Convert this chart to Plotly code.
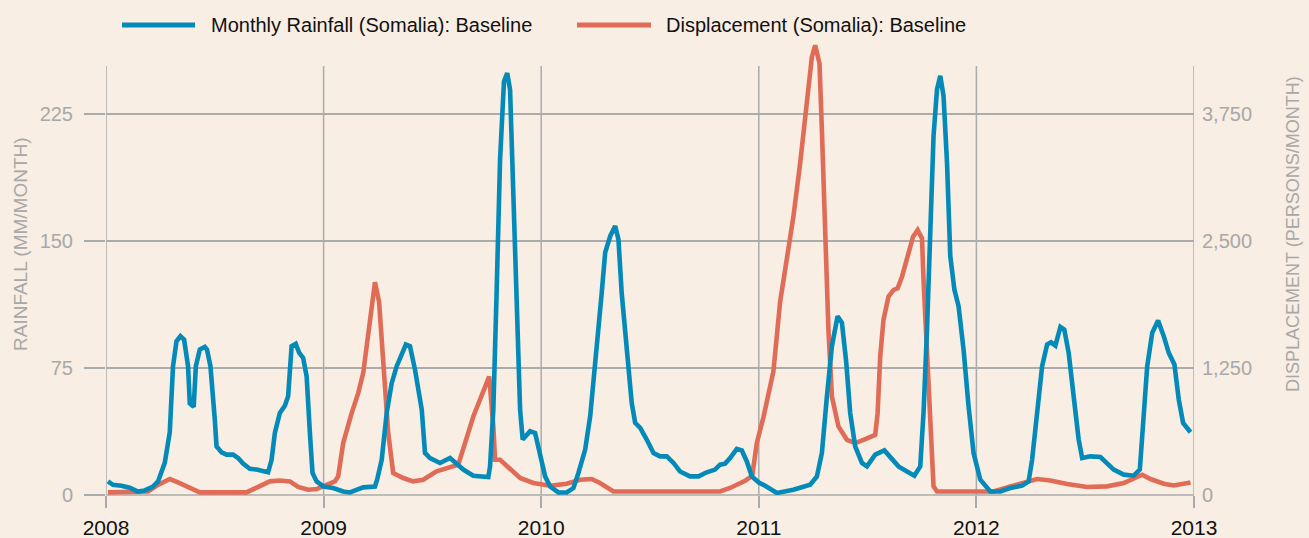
import plotly.graph_objects as go

# ---------------- data ----------------
rain_t = [2008.009, 2008.032, 2008.071, 2008.109, 2008.147, 2008.178, 2008.216, 2008.239, 2008.270, 2008.293,
          2008.308, 2008.324, 2008.342, 2008.359, 2008.377, 2008.385, 2008.403, 2008.413, 2008.431, 2008.454,
          2008.464, 2008.480, 2008.500, 2008.508, 2008.531, 2008.554, 2008.584, 2008.607, 2008.630, 2008.661,
          2008.692, 2008.722, 2008.745, 2008.761, 2008.776, 2008.799, 2008.822, 2008.837, 2008.853, 2008.872,
          2008.888, 2008.906, 2008.922, 2008.937, 2008.949, 2008.968, 2009.000, 2009.044, 2009.090, 2009.121,
          2009.152, 2009.182, 2009.236, 2009.246, 2009.267, 2009.290, 2009.313, 2009.336, 2009.359, 2009.378,
          2009.397, 2009.420, 2009.451, 2009.466, 2009.489, 2009.535, 2009.581, 2009.642, 2009.688, 2009.719,
          2009.757, 2009.765, 2009.780, 2009.795, 2009.811, 2009.829, 2009.844, 2009.857, 2009.872, 2009.890,
          2009.903, 2009.915, 2009.949, 2009.972, 2009.995, 2010.018, 2010.041, 2010.079, 2010.117, 2010.148,
          2010.171, 2010.202, 2010.225, 2010.255, 2010.278, 2010.294, 2010.317, 2010.340, 2010.355, 2010.370,
          2010.393, 2010.416, 2010.432, 2010.455, 2010.485, 2010.516, 2010.546, 2010.577, 2010.608, 2010.638,
          2010.684, 2010.723, 2010.761, 2010.799, 2010.822, 2010.845, 2010.868, 2010.899, 2010.922, 2010.945,
          2010.968, 2011.000, 2011.029, 2011.067, 2011.083, 2011.159, 2011.236, 2011.267, 2011.290, 2011.313,
          2011.336, 2011.362, 2011.382, 2011.402, 2011.420, 2011.443, 2011.474, 2011.497, 2011.535, 2011.577,
          2011.612, 2011.642, 2011.681, 2011.715, 2011.742, 2011.757, 2011.773, 2011.788, 2011.803, 2011.819,
          2011.834, 2011.849, 2011.865, 2011.880, 2011.899, 2011.918, 2011.941, 2011.964, 2011.987, 2012.018,
          2012.064, 2012.110, 2012.156, 2012.210, 2012.240, 2012.256, 2012.279, 2012.302, 2012.325, 2012.343,
          2012.363, 2012.386, 2012.404, 2012.424, 2012.447, 2012.470, 2012.486, 2012.524, 2012.570, 2012.593,
          2012.631, 2012.677, 2012.723, 2012.751, 2012.766, 2012.785, 2012.808, 2012.835, 2012.861, 2012.884,
          2012.910, 2012.930, 2012.950, 2012.984]
rain_mm = [8.0, 6.0, 5.5, 4.3, 2.0, 2.7, 5.0, 8.0, 19.0, 37.0,
           76.0, 90.7, 93.7, 91.7, 76.0, 54.0, 52.0, 76.0, 85.8, 87.4,
           85.8, 76.0, 44.5, 28.7, 25.2, 23.8, 23.8, 21.8, 18.5, 15.4,
           15.0, 13.9, 13.4, 20.8, 36.6, 48.4, 52.7, 58.2, 87.8, 89.2,
           83.9, 80.9, 70.0, 36.6, 13.0, 8.0, 5.0, 4.1, 2.1, 1.5,
           2.7, 4.5, 5.0, 9.0, 20.8, 48.4, 66.0, 76.0, 83.0, 88.8,
           87.8, 74.0, 50.4, 24.8, 21.8, 18.9, 21.8, 15.0, 11.4, 11.0,
           10.6, 16.9, 50.4, 119.0, 198.0, 244.0, 249.0, 239.0, 178.0, 99.6,
           50.4, 32.7, 37.6, 36.6, 24.8, 11.0, 5.0, 1.5, 1.5, 4.1,
           13.0, 26.8, 46.4, 83.9, 119.0, 143.0, 152.7, 158.7, 150.8, 119.0,
           87.8, 54.3, 42.5, 39.6, 32.7, 24.8, 22.8, 22.8, 18.9, 13.9,
           11.0, 11.0, 13.4, 15.0, 17.9, 18.5, 21.8, 27.2, 26.3, 19.8,
           11.0, 7.4, 5.5, 2.1, 1.2, 3.1, 6.1, 11.0, 24.8, 58.2,
           87.8, 105.5, 101.6, 78.0, 48.4, 28.7, 18.9, 16.9, 23.8, 26.3,
           20.8, 16.9, 13.9, 11.4, 16.9, 48.4, 97.6, 156.7, 211.8, 239.4,
           247.3, 235.4, 196.0, 141.0, 121.0, 111.4, 85.8, 52.3, 24.8, 9.0,
           2.1, 2.1, 4.1, 5.5, 8.0, 20.8, 50.4, 76.0, 88.8, 90.1,
           88.2, 99.2, 97.6, 83.9, 58.2, 32.7, 21.8, 22.8, 22.4, 19.8,
           15.0, 12.0, 11.4, 15.0, 40.5, 76.0, 95.7, 103.0, 93.7, 83.9,
           77.0, 56.3, 42.5, 37.0]

disp_t = [2008.009, 2008.078, 2008.155, 2008.193, 2008.232, 2008.293, 2008.331, 2008.370, 2008.400, 2008.431,
          2008.646, 2008.692, 2008.753, 2008.799, 2008.845, 2008.883, 2008.929, 2008.968, 2009.014, 2009.052,
          2009.067, 2009.090, 2009.129, 2009.159, 2009.182, 2009.205, 2009.228, 2009.236, 2009.255, 2009.274,
          2009.297, 2009.320, 2009.366, 2009.412, 2009.458, 2009.519, 2009.550, 2009.619, 2009.688, 2009.761,
          2009.780, 2009.788, 2009.811, 2009.857, 2009.903, 2009.964, 2010.041, 2010.117, 2010.178, 2010.232,
          2010.270, 2010.332, 2010.562, 2010.822, 2010.868, 2010.937, 2010.970, 2010.991, 2011.022, 2011.067,
          2011.098, 2011.129, 2011.159, 2011.190, 2011.221, 2011.244, 2011.259, 2011.279, 2011.290, 2011.305,
          2011.320, 2011.336, 2011.366, 2011.405, 2011.443, 2011.481, 2011.535, 2011.546, 2011.558, 2011.573,
          2011.596, 2011.620, 2011.638, 2011.658, 2011.681, 2011.709, 2011.730, 2011.750, 2011.757, 2011.773,
          2011.788, 2011.796, 2011.803, 2011.819, 2012.079, 2012.156, 2012.233, 2012.279, 2012.340, 2012.417,
          2012.509, 2012.601, 2012.677, 2012.723, 2012.762, 2012.800, 2012.861, 2012.907, 2012.953, 2012.984]
disp_persons = [26, 26, 26, 35, 91, 157, 124, 85, 65, 26,
                26, 69, 134, 143, 134, 79, 52, 59, 101, 134,
                183, 511, 805, 1002, 1198, 1591, 1918, 2093, 1900, 1263,
                609, 216, 167, 134, 150, 232, 249, 298, 772, 1165,
                674, 347, 347, 249, 167, 118, 91, 111, 150, 157,
                118, 35, 35, 35, 69, 140, 190, 511, 772, 1215,
                1900, 2344, 2737, 3261, 3817, 4309, 4423, 4243, 3588, 2606,
                1624, 968, 674, 543, 511, 543, 592, 805, 1362, 1722,
                1951, 2017, 2033, 2147, 2344, 2540, 2606, 2524, 2115, 1460,
                805, 314, 85, 35, 35, 85, 124, 157, 143, 108,
                79, 85, 118, 157, 199, 157, 111, 94, 108, 124]

year_ticks = [2008, 2009, 2010, 2011, 2012, 2013]
year_labels = ["2008", "2009", "2010", "2011", "2012", "2013"]
rain_ticks = [0, 75, 150, 225]
rain_labels = ["0", "75", "150", "225"]
disp_ticks = [0, 1250, 2500, 3750]
disp_labels = ["0", "1,250", "2,500", "3,750"]

series_names = ["Monthly Rainfall (Somalia): Baseline", "Displacement (Somalia): Baseline"]

# ---------------- style ----------------
W, H = 1309, 538
ML, MR, MT, MB = 106, 115, 42, 43
BG = "#F8EEE3"
BLUE = "#048AB8"
RED = "#E06C57"
GRID = "#ABABAB"
TICKGRAY = "#A8A8A8"
FONT = "Liberation Sans, Arial, sans-serif"
RAIN_MAX = 267.3
DISP_MAX = RAIN_MAX * 50 / 3
LEG_Y = 25

def px(x):
    return (x - ML) / (W - ML - MR)

def py(y):
    return (H - MB - y) / (H - MT - MB)

fig = go.Figure()
fig.add_trace(go.Scatter(x=disp_t, y=disp_persons, mode="lines", yaxis="y",
                         line=dict(color=RED, width=4.6), name=series_names[1], showlegend=False))
fig.add_trace(go.Scatter(x=rain_t, y=rain_mm, mode="lines", yaxis="y2",
                         line=dict(color=BLUE, width=4.6), name=series_names[0], showlegend=False))

shapes = []
grid_top = py(66)
for yr in year_ticks:
    shapes.append(dict(type="line", xref="x", yref="paper", x0=yr, x1=yr, y0=0, y1=grid_top,
                       line=dict(color=GRID, width=1.5), layer="below"))
shapes.append(dict(type="line", xref="paper", yref="paper", x0=0, x1=1, y0=0, y1=0,
                   line=dict(color=GRID, width=1.5), layer="below"))
# legend
shapes.append(dict(type="line", xref="paper", yref="paper", x0=px(122), x1=px(195), y0=py(LEG_Y), y1=py(LEG_Y),
                   line=dict(color=BLUE, width=5)))
shapes.append(dict(type="line", xref="paper", yref="paper", x0=px(577), x1=px(651), y0=py(LEG_Y), y1=py(LEG_Y),
                   line=dict(color=RED, width=5)))

annotations = [
    dict(text=series_names[0], xref="paper", yref="paper", x=px(209), y=py(LEG_Y), xanchor="left",
         yanchor="middle", showarrow=False, font=dict(family=FONT, size=20, color="#111111")),
    dict(text=series_names[1], xref="paper", yref="paper", x=px(664), y=py(LEG_Y), xanchor="left",
         yanchor="middle", showarrow=False, font=dict(family=FONT, size=20, color="#111111")),
    dict(text="RAINFALL (MM/MONTH)", xref="paper", yref="paper", x=px(21), y=py(244), textangle=-90,
         xanchor="center", yanchor="middle", showarrow=False, font=dict(family=FONT, size=19, color=TICKGRAY)),
    dict(text="DISPLACEMENT (PERSONS/MONTH)", xref="paper", yref="paper", x=px(1293), y=py(234), textangle=-90,
         xanchor="center", yanchor="middle", showarrow=False, font=dict(family=FONT, size=18, color=TICKGRAY)),
]

fig.update_layout(
    width=W, height=H,
    margin=dict(l=ML, r=MR, t=MT, b=MB, pad=0, autoexpand=False),
    paper_bgcolor=BG, plot_bgcolor=BG,
    font=dict(family=FONT),
    showlegend=False,
    shapes=shapes,
    annotations=annotations,
    xaxis=dict(range=[2008, 2013], tickvals=year_ticks, ticktext=year_labels, automargin=False,
               showgrid=False, zeroline=False, showline=False,
               ticks="outside", ticklen=12, tickwidth=1.5, tickcolor=GRID, ticklabelstandoff=2,
               tickfont=dict(family=FONT, size=21, color="#111111")),
    yaxis=dict(range=[0, DISP_MAX], side="right", tickvals=disp_ticks, ticktext=disp_labels, automargin=False,
               showgrid=True, gridcolor=GRID, gridwidth=1.5, zeroline=False, showline=False,
               ticks="", ticklabelstandoff=7,
               tickfont=dict(family=FONT, size=20, color=TICKGRAY)),
    yaxis2=dict(range=[0, RAIN_MAX], side="left", overlaying="y", tickvals=rain_ticks, ticktext=rain_labels,
                automargin=False, showgrid=False, zeroline=False, showline=False,
                ticks="outside", ticklen=21, tickwidth=1.5, tickcolor=GRID, ticklabelstandoff=7,
                tickfont=dict(family=FONT, size=20, color=TICKGRAY)),
)

fig.write_html("out.html", config={"displayModeBar": False},
               post_script="document.body.style.margin='0px';")
